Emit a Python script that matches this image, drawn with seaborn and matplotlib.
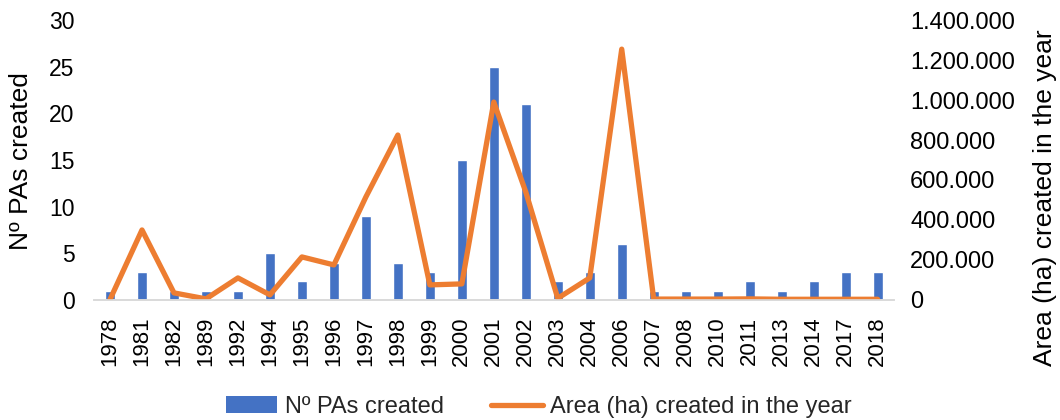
import matplotlib
matplotlib.use("Agg")
import matplotlib.pyplot as plt
import seaborn as sns
import pandas as pd
from matplotlib.ticker import FuncFormatter, MultipleLocator
from matplotlib.patches import Patch
from matplotlib.lines import Line2D

years = ["1978", "1981", "1982", "1989", "1992", "1994", "1995", "1996", "1997", "1998",
         "1999", "2000", "2001", "2002", "2003", "2004", "2006", "2007", "2008", "2010",
         "2011", "2013", "2014", "2017", "2018"]
pas_created = [1, 3, 1, 1, 1, 5, 2, 4, 9, 4, 3, 15, 25, 21, 2, 3, 6, 1, 1, 1, 2, 1, 2, 3, 3]
area_ha = [2000, 350000, 35000, 5000, 110000, 25000, 215000, 175000, 515000, 825000,
           75000, 80000, 990000, 540000, 8000, 110000, 1255000, 4000, 4000, 4000,
           5000, 3000, 3000, 3000, 3000]

bar_label = "Nº PAs created"
line_label = "Area (ha) created in the year"
bar_color = "#4472C4"
line_color = "#ED7D31"

sns.set_theme(style="white")
plt.rcParams["font.family"] = ["Liberation Sans", "DejaVu Sans"]

df = pd.DataFrame({"year": years, "pas": pas_created, "area": area_ha})

fig, ax = plt.subplots(figsize=(10.6, 4.2), dpi=100)
fig.subplots_adjust(left=0.0887, right=0.843, top=0.952, bottom=0.286)

sns.barplot(data=df, x="year", y="pas", color=bar_color, width=0.31, ax=ax,
            saturation=1, order=years)
ax.set_ylim(0, 30)
ax.yaxis.set_major_locator(MultipleLocator(5))
ax.set_xlim(-0.5, len(years) - 0.5)
ax.set_ylabel(bar_label, fontsize=19, color="#000000")
ax.yaxis.set_label_coords(-0.076, 0.496)
ax.set_xlabel("")
ax.tick_params(axis="y", labelsize=16.5, colors="#000000", length=0, pad=14)
ax.tick_params(axis="x", labelsize=16, colors="#000000", length=0, rotation=90, pad=12)

ax2 = ax.twinx()
sns.lineplot(data=df, x="year", y="area", sort=False, color=line_color,
             linewidth=3.8, ax=ax2, solid_joinstyle="round", solid_capstyle="round")
ax2.set_ylim(0, 1400000)
ax2.yaxis.set_major_locator(MultipleLocator(200000))
ax2.yaxis.set_major_formatter(FuncFormatter(lambda v, p: f"{int(v):,}".replace(",", ".")))
ax2.set_ylabel(line_label, fontsize=19, color="#000000")
ax2.yaxis.set_label_coords(1.174, 0.364)
ax2.tick_params(axis="y", labelsize=17, colors="#000000", length=0, pad=12)
ax2.set_xlim(-0.5, len(years) - 0.5)

for a in (ax, ax2):
    for s in ("top", "left", "right"):
        a.spines[s].set_visible(False)
    a.spines["bottom"].set_color("#D9D9D9")
    a.spines["bottom"].set_linewidth(1.2)
    a.grid(False)

handles = [Patch(facecolor=bar_color, edgecolor="none", label=bar_label),
           Line2D([0], [0], color=line_color, linewidth=3.8, solid_capstyle="round", label=line_label)]
fig.legend(handles=handles, loc="center", bbox_to_anchor=(0.508, 0.031), ncol=2,
           frameon=False, fontsize=17, handlelength=2.2, handletextpad=0.3,
           columnspacing=2.0, borderpad=0.2)

fig.savefig("out.png", dpi=100)
